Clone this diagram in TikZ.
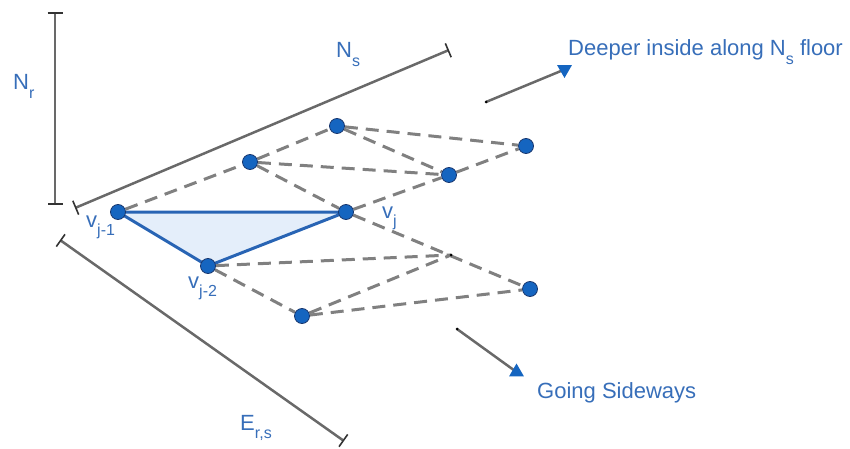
\documentclass[tikz,border=0pt]{standalone}
\usepackage{fontspec}
\setmainfont{Liberation Sans}
\usetikzlibrary{arrows.meta,shapes.geometric,backgrounds}

\definecolor{dotblue}{RGB}{21,101,192}
\definecolor{dotedge}{RGB}{25,55,110}
\definecolor{labelblue}{RGB}{55,110,185}
\definecolor{edgegray}{RGB}{128,128,128}
\definecolor{rulergray}{RGB}{105,105,105}
\definecolor{triblue}{RGB}{40,100,180}
\definecolor{trifill}{RGB}{228,238,250}

\newcommand{\lsub}[1]{\raisebox{-0.38em}{\fontsize{16}{16}\selectfont #1}}

\tikzset{
  dot/.style={circle, fill=dotblue, draw=dotedge, line width=0.8pt, minimum size=15pt, inner sep=0pt},
  link/.style={edgegray, line width=3pt, dash pattern=on 13pt off 8pt},
  ruler/.style={rulergray, line width=2.5pt, {Bar[width=15pt,line width=1.6pt,black!80]}-{Bar[width=15pt,line width=1.6pt,black!80]}},
  guide/.style={rulergray, line width=2.5pt},
  headtri/.style={regular polygon, regular polygon sides=3, fill=dotblue, inner sep=0pt, minimum size=17pt},
  lbl/.style={text=labelblue, font=\fontsize{22}{24}\selectfont, inner sep=0pt, anchor=base west},
  tri/.style={draw=triblue, fill=trifill, line width=3pt, line join=round}
}

\begin{document}
\begin{tikzpicture}[x=1pt, y=-1pt]
  \useasboundingbox (0,0) rectangle (850,449);

  % Vertices
  \node[dot] (A) at (118,212) {};
  \node[dot] (B) at (346,212) {};
  \node[dot] (C) at (208,266) {};
  \node[dot] (D) at (250,162) {};
  \node[dot] (E) at (337,126) {};
  \node[dot] (F) at (449,175) {};
  \node[dot] (G) at (526,146) {};
  \node[dot] (I) at (302,316) {};
  \node[dot] (J) at (530,289) {};
  \coordinate (H) at (451,255);

  % Direction markers
  \coordinate (s1) at (486,102);
  \coordinate (s2) at (457,329);
  \node[headtri, shape border rotate=180] (t1) at (564.5,69.5) {};
  \node[headtri] (t2) at (516.5,372) {};

  % Rulers
  \coordinate (r1) at (55,12);
  \coordinate (r2) at (55,205);
  \coordinate (n1) at (75,208);
  \coordinate (n2) at (449,50);
  \coordinate (e1) at (60,240);
  \coordinate (e2) at (344,441);

  \begin{scope}[on background layer]
    \draw[ruler] (r1) -- (r2);
    \draw[ruler] (n1) -- (n2);
    \draw[ruler] (e1) -- (e2);
    \draw[guide] (s1) -- (t1.center);
    \draw[guide] (s2) -- (t2.center);
    \fill (s1) circle (1.5pt);
    \fill (s2) circle (1.5pt);

    % Current triangle
    \draw[tri] (A.center) -- (B.center) -- (C.center) -- cycle;

    % Dashed links
    \foreach \a/\b in {A/D, D/E, E/G, E/F, D/F, F/G, D/B, B/F, B/J, C/H, I/H, C/I, I/J}
      \draw[link] (\a) -- (\b);
    \fill (H) circle (1.5pt);
  \end{scope}

  % Labels
  \node[lbl] (lr) at (13,90) {N\lsub{r}};
  \node[lbl] (ls) at (336,58) {N\lsub{s}};
  \node[lbl] (lers) at (240,430) {E\lsub{r,s}};
  \node[lbl] (lA) at (86,227) {v\lsub{j-1}};
  \node[lbl] (lB) at (382,218) {v\lsub{j}};
  \node[lbl] (lC) at (188,288) {v\lsub{j-2}};
  \node[lbl] (ldeep) at (568,56) {Deeper inside along N\lsub{s} floor};
  \node[lbl] (lside) at (537,398) {Going Sideways};
\end{tikzpicture}
\end{document}
